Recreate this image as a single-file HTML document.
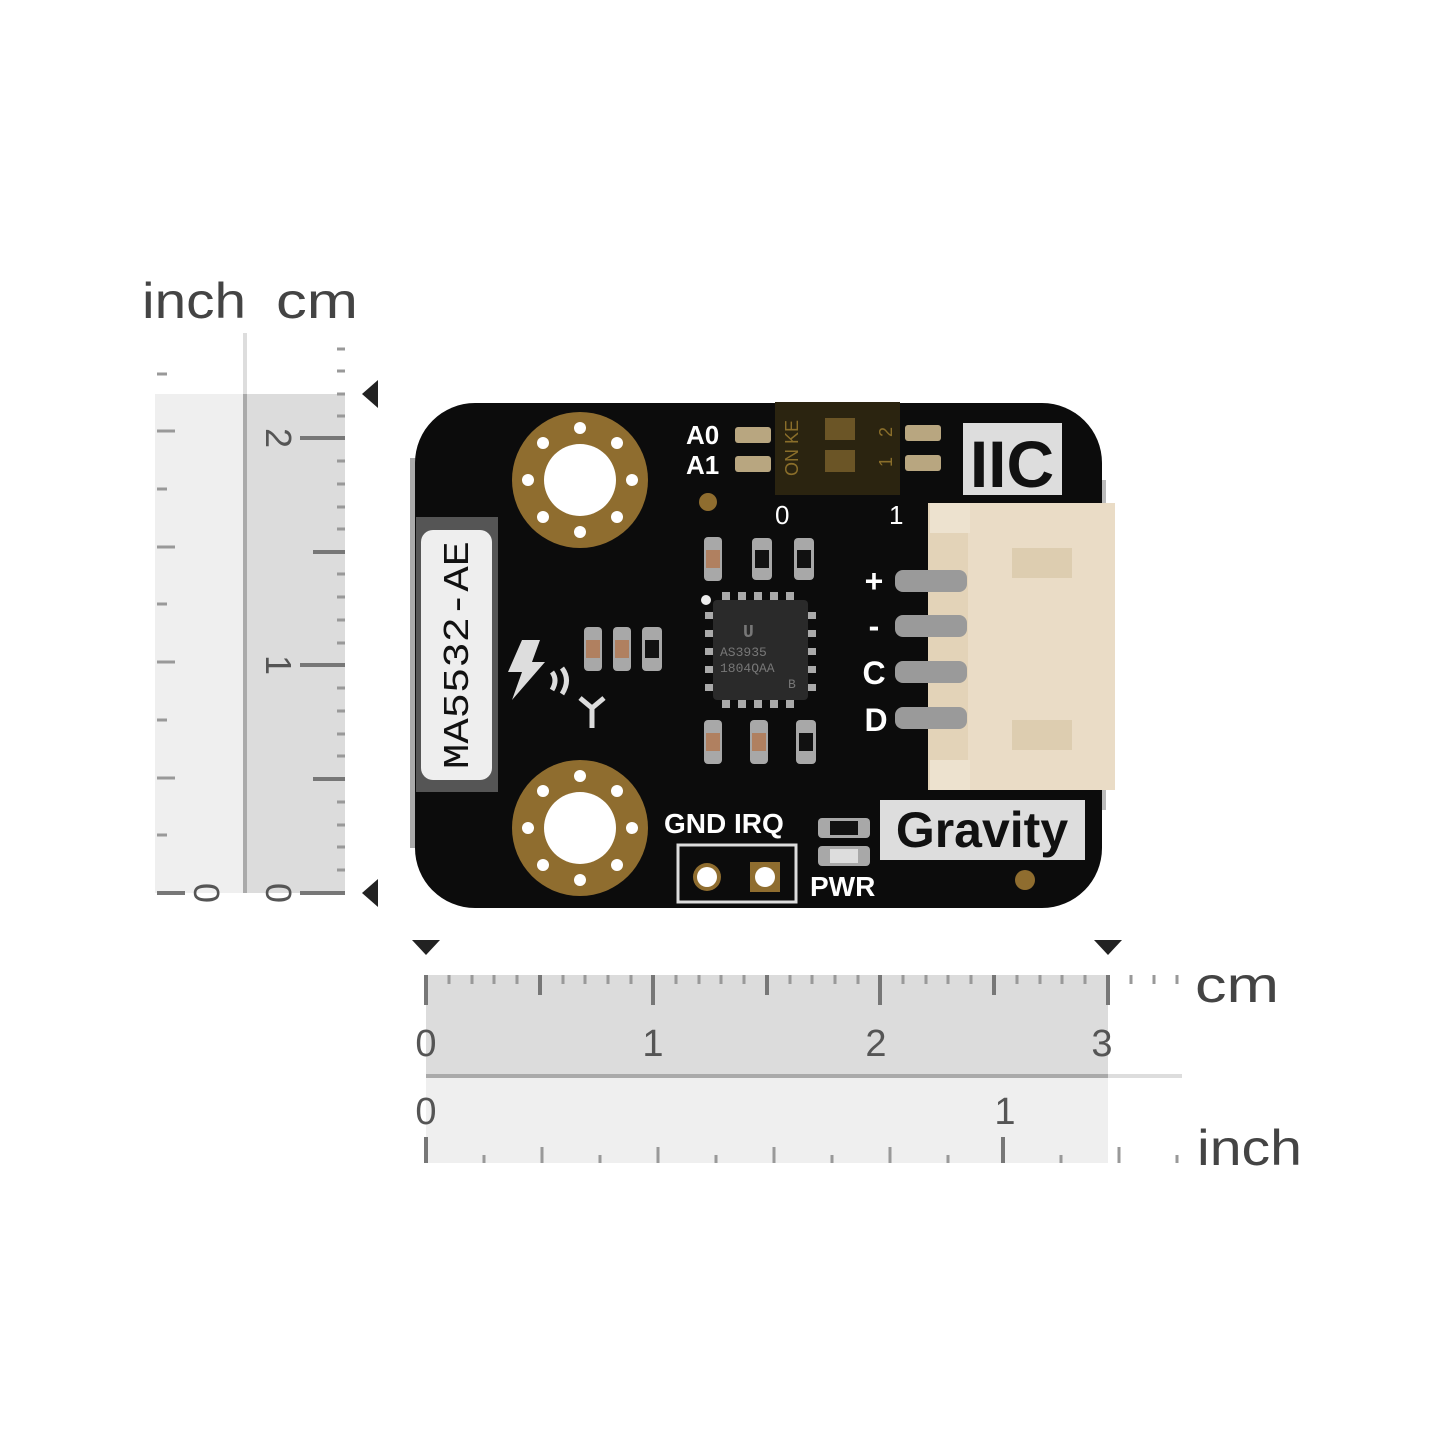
<!DOCTYPE html>
<html><head><meta charset="utf-8"><style>
html,body{margin:0;padding:0;background:#fff;}
svg{display:block;}
text{font-family:"Liberation Sans",sans-serif;}
text.mono{font-family:"Liberation Mono",monospace;}
</style></head><body>
<svg width="1445" height="1445" viewBox="0 0 1445 1445" xmlns="http://www.w3.org/2000/svg">
<rect width="1445" height="1445" fill="#fff"/>
<!-- LEFT RULER -->
<rect x="155" y="394" width="90" height="499" fill="#efefef"/>
<rect x="245" y="394" width="100" height="499" fill="#dcdcdc"/>
<line x1="245" y1="333" x2="245" y2="394" stroke="#ddd" stroke-width="4"/>
<line x1="245" y1="394" x2="245" y2="893" stroke="#aaa" stroke-width="4"/>
<g stroke="#999" stroke-width="3">
<line x1="157" y1="374" x2="167" y2="374"/>
<line x1="157" y1="431" x2="175" y2="431"/>
<line x1="157" y1="489" x2="167" y2="489"/>
<line x1="157" y1="547" x2="175" y2="547"/>
<line x1="157" y1="604" x2="167" y2="604"/>
<line x1="157" y1="662" x2="175" y2="662"/>
<line x1="157" y1="720" x2="167" y2="720"/>
<line x1="157" y1="778" x2="175" y2="778"/>
<line x1="157" y1="835" x2="167" y2="835"/>
<line x1="337" y1="349" x2="345" y2="349"/>
<line x1="337" y1="371" x2="345" y2="371"/>
<line x1="337" y1="394" x2="345" y2="394"/>
<line x1="337" y1="416" x2="345" y2="416"/>
<line x1="337" y1="461" x2="345" y2="461"/>
<line x1="337" y1="484" x2="345" y2="484"/>
<line x1="337" y1="507" x2="345" y2="507"/>
<line x1="337" y1="529" x2="345" y2="529"/>
<line x1="337" y1="574" x2="345" y2="574"/>
<line x1="337" y1="597" x2="345" y2="597"/>
<line x1="337" y1="620" x2="345" y2="620"/>
<line x1="337" y1="643" x2="345" y2="643"/>
<line x1="337" y1="688" x2="345" y2="688"/>
<line x1="337" y1="711" x2="345" y2="711"/>
<line x1="337" y1="734" x2="345" y2="734"/>
<line x1="337" y1="756" x2="345" y2="756"/>
<line x1="337" y1="802" x2="345" y2="802"/>
<line x1="337" y1="825" x2="345" y2="825"/>
<line x1="337" y1="847" x2="345" y2="847"/>
<line x1="337" y1="870" x2="345" y2="870"/>
</g>
<g stroke="#777" stroke-width="4">
<line x1="157" y1="893" x2="185" y2="893"/>
<line x1="313" y1="552" x2="345" y2="552"/>
<line x1="313" y1="779" x2="345" y2="779"/>
<line x1="300" y1="438" x2="345" y2="438"/>
<line x1="300" y1="665" x2="345" y2="665"/>
<line x1="300" y1="893" x2="345" y2="893"/>
</g>
<g fill="#555" font-size="36">
<text transform="translate(266,438) rotate(90)" text-anchor="middle">2</text>
<text transform="translate(266,665) rotate(90)" text-anchor="middle">1</text>
<text transform="translate(266,893) rotate(90)" text-anchor="middle">0</text>
<text transform="translate(194,893) rotate(90)" text-anchor="middle">0</text>
</g>
<polygon points="362,394 378,380 378,408" fill="#222"/>
<polygon points="362,893 378,879 378,907" fill="#222"/>
<text x="142" y="318" font-size="50" fill="#444" textLength="104" lengthAdjust="spacingAndGlyphs">inch</text>
<text x="276" y="318" font-size="50" fill="#444" textLength="82" lengthAdjust="spacingAndGlyphs">cm</text>

<!-- BOTTOM RULER -->
<rect x="426" y="975" width="682" height="101" fill="#dcdcdc"/>
<rect x="426" y="1077" width="682" height="86" fill="#efefef"/>
<line x1="426" y1="1076" x2="1108" y2="1076" stroke="#aaa" stroke-width="4"/>
<line x1="1108" y1="1076" x2="1182" y2="1076" stroke="#ddd" stroke-width="4"/>
<g stroke="#999" stroke-width="3">
<line x1="449" y1="975" x2="449" y2="984"/><line x1="472" y1="975" x2="472" y2="984"/><line x1="494" y1="975" x2="494" y2="984"/><line x1="517" y1="975" x2="517" y2="984"/>
<line x1="563" y1="975" x2="563" y2="984"/><line x1="585" y1="975" x2="585" y2="984"/><line x1="608" y1="975" x2="608" y2="984"/><line x1="631" y1="975" x2="631" y2="984"/>
<line x1="676" y1="975" x2="676" y2="984"/><line x1="699" y1="975" x2="699" y2="984"/><line x1="721" y1="975" x2="721" y2="984"/><line x1="744" y1="975" x2="744" y2="984"/>
<line x1="790" y1="975" x2="790" y2="984"/><line x1="812" y1="975" x2="812" y2="984"/><line x1="835" y1="975" x2="835" y2="984"/><line x1="858" y1="975" x2="858" y2="984"/>
<line x1="903" y1="975" x2="903" y2="984"/><line x1="926" y1="975" x2="926" y2="984"/><line x1="948" y1="975" x2="948" y2="984"/><line x1="971" y1="975" x2="971" y2="984"/>
<line x1="1017" y1="975" x2="1017" y2="984"/><line x1="1040" y1="975" x2="1040" y2="984"/><line x1="1062" y1="975" x2="1062" y2="984"/><line x1="1085" y1="975" x2="1085" y2="984"/>
<line x1="1131" y1="975" x2="1131" y2="984"/><line x1="1154" y1="975" x2="1154" y2="984"/><line x1="1177" y1="975" x2="1177" y2="984"/>
<line x1="484" y1="1155" x2="484" y2="1163"/><line x1="600" y1="1155" x2="600" y2="1163"/><line x1="716" y1="1155" x2="716" y2="1163"/><line x1="832" y1="1155" x2="832" y2="1163"/><line x1="948" y1="1155" x2="948" y2="1163"/><line x1="1061" y1="1155" x2="1061" y2="1163"/><line x1="1177" y1="1155" x2="1177" y2="1163"/>
<line x1="542" y1="1147" x2="542" y2="1163"/><line x1="658" y1="1147" x2="658" y2="1163"/><line x1="774" y1="1147" x2="774" y2="1163"/><line x1="890" y1="1147" x2="890" y2="1163"/><line x1="1119" y1="1147" x2="1119" y2="1163"/>
</g>
<g stroke="#777" stroke-width="4">
<line x1="540" y1="975" x2="540" y2="995"/><line x1="767" y1="975" x2="767" y2="995"/><line x1="994" y1="975" x2="994" y2="995"/>
<line x1="426" y1="975" x2="426" y2="1005"/><line x1="653" y1="975" x2="653" y2="1005"/><line x1="880" y1="975" x2="880" y2="1005"/><line x1="1108" y1="975" x2="1108" y2="1005"/>
<line x1="426" y1="1137" x2="426" y2="1163"/><line x1="1003" y1="1137" x2="1003" y2="1163"/>
</g>
<g fill="#555" font-size="38" text-anchor="middle">
<text x="426" y="1056">0</text><text x="653" y="1056">1</text><text x="876" y="1056">2</text><text x="1102" y="1056">3</text>
<text x="426" y="1124">0</text><text x="1005" y="1124">1</text>
</g>
<polygon points="426,955 412,940 440,940" fill="#222"/>
<polygon points="1108,955 1094,940 1122,940" fill="#222"/>
<text x="1195" y="1002" font-size="50" fill="#444" textLength="84" lengthAdjust="spacingAndGlyphs">cm</text>
<text x="1197" y="1165" font-size="50" fill="#444" textLength="105" lengthAdjust="spacingAndGlyphs">inch</text>

<!-- PCB -->
<rect x="410" y="458" width="12" height="390" fill="#aaa"/>
<rect x="1094" y="480" width="12" height="330" fill="#bbb"/>
<rect x="415" y="403" width="687" height="505" rx="60" fill="#0c0c0c"/>
<g>
<circle cx="580" cy="480" r="68" fill="#8f6d2f"/>
<circle cx="580" cy="480" r="36" fill="#fff"/>
<circle cx="580" cy="828" r="68" fill="#8f6d2f"/>
<circle cx="580" cy="828" r="36" fill="#fff"/>
<g fill="#fff">
<circle cx="580" cy="428" r="6"/><circle cx="580" cy="532" r="6"/><circle cx="528" cy="480" r="6"/><circle cx="632" cy="480" r="6"/>
<circle cx="543" cy="443" r="6"/><circle cx="617" cy="443" r="6"/><circle cx="543" cy="517" r="6"/><circle cx="617" cy="517" r="6"/>
<circle cx="580" cy="776" r="6"/><circle cx="580" cy="880" r="6"/><circle cx="528" cy="828" r="6"/><circle cx="632" cy="828" r="6"/>
<circle cx="543" cy="791" r="6"/><circle cx="617" cy="791" r="6"/><circle cx="543" cy="865" r="6"/><circle cx="617" cy="865" r="6"/>
</g>
</g>
<!-- antenna -->
<rect x="416" y="517" width="82" height="275" fill="#555"/>
<rect x="421" y="530" width="71" height="250" rx="12" fill="#eee"/>
<text class="mono" transform="translate(468,655) rotate(-90)" text-anchor="middle" font-size="36" fill="#111" textLength="228" lengthAdjust="spacingAndGlyphs">MA5532-AE</text>
<!-- dip switch -->
<rect x="775" y="402" width="125" height="93" fill="#2b2410"/>
<rect x="825" y="418" width="30" height="22" fill="#6b5526"/>
<rect x="825" y="450" width="30" height="22" fill="#6b5526"/>
<text transform="translate(798,448) rotate(-90)" text-anchor="middle" font-size="18" fill="#8a6e2a">ON KE</text>
<text transform="translate(892,432) rotate(-90)" text-anchor="middle" font-size="18" fill="#8a6e2a">2</text>
<text transform="translate(892,462) rotate(-90)" text-anchor="middle" font-size="18" fill="#8a6e2a">1</text>
<g fill="#b8a680"><rect x="735" y="427" width="36" height="16" rx="3"/><rect x="735" y="456" width="36" height="16" rx="3"/><rect x="905" y="425" width="36" height="16" rx="3"/><rect x="905" y="455" width="36" height="16" rx="3"/></g>
<g fill="#fff" font-weight="bold" font-size="26">
<text x="686" y="444">A0</text><text x="686" y="474">A1</text>
<text x="775" y="524" font-weight="normal">0</text><text x="889" y="524" font-weight="normal">1</text>
</g>
<circle cx="708" cy="502" r="9" fill="#8f6d2f"/>
<!-- IIC -->
<rect x="963" y="423" width="99" height="72" fill="#ddd"/>
<text x="1012" y="487" text-anchor="middle" font-size="66" font-weight="bold" fill="#111">IIC</text>
<!-- connector -->
<rect x="928" y="503" width="187" height="287" fill="#e3d3b8"/>
<rect x="968" y="503" width="147" height="287" fill="#eadcc6"/>
<rect x="930" y="503" width="40" height="30" fill="#ede2cf"/>
<rect x="930" y="760" width="40" height="30" fill="#ede2cf"/>
<rect x="1012" y="548" width="60" height="30" fill="#ddcdb0"/>
<rect x="1012" y="720" width="60" height="30" fill="#ddcdb0"/>
<g fill="#9a9a9a">
<rect x="895" y="570" width="72" height="22" rx="8"/><rect x="895" y="615" width="72" height="22" rx="8"/>
<rect x="895" y="661" width="72" height="22" rx="8"/><rect x="895" y="707" width="72" height="22" rx="8"/>
</g>
<g fill="#fff" font-weight="bold" font-size="32" text-anchor="middle">
<text x="874" y="592">+</text><text x="874" y="637">-</text><text x="874" y="684">C</text><text x="876" y="731">D</text>
</g>
<!-- chip -->
<rect x="713" y="600" width="95" height="100" rx="4" fill="#2a2a2a"/>
<g fill="#aaa">
<rect x="722" y="592" width="8" height="8"/><rect x="738" y="592" width="8" height="8"/><rect x="754" y="592" width="8" height="8"/><rect x="770" y="592" width="8" height="8"/><rect x="786" y="592" width="8" height="8"/>
<rect x="722" y="700" width="8" height="8"/><rect x="738" y="700" width="8" height="8"/><rect x="754" y="700" width="8" height="8"/><rect x="770" y="700" width="8" height="8"/><rect x="786" y="700" width="8" height="8"/>
<rect x="705" y="612" width="8" height="7"/><rect x="705" y="630" width="8" height="7"/><rect x="705" y="648" width="8" height="7"/><rect x="705" y="666" width="8" height="7"/><rect x="705" y="684" width="8" height="7"/>
<rect x="808" y="612" width="8" height="7"/><rect x="808" y="630" width="8" height="7"/><rect x="808" y="648" width="8" height="7"/><rect x="808" y="666" width="8" height="7"/><rect x="808" y="684" width="8" height="7"/>
</g>
<g fill="#777" font-size="13">
<text class="mono" x="743" y="637" font-size="18" font-weight="bold">U</text>
<text class="mono" x="720" y="656">AS3935</text><text class="mono" x="720" y="672">1804QAA</text><text class="mono" x="788" y="688">B</text>
</g>
<circle cx="706" cy="600" r="5" fill="#eee"/>
<!-- small parts -->
<g fill="#a8a8a8">
<rect x="704" y="537" width="18" height="44" rx="4"/><rect x="752" y="538" width="20" height="42" rx="4"/><rect x="794" y="538" width="20" height="42" rx="4"/>
<rect x="584" y="627" width="18" height="44" rx="4"/><rect x="613" y="627" width="18" height="44" rx="4"/><rect x="642" y="627" width="20" height="44" rx="4"/>
<rect x="704" y="720" width="18" height="44" rx="4"/><rect x="750" y="720" width="18" height="44" rx="4"/><rect x="796" y="720" width="20" height="44" rx="4"/>
<rect x="818" y="818" width="52" height="20" rx="4"/><rect x="818" y="846" width="52" height="20" rx="4"/>
</g>
<g fill="#b08060">
<rect x="706" y="550" width="14" height="18"/><rect x="586" y="640" width="14" height="18"/><rect x="615" y="640" width="14" height="18"/>
<rect x="706" y="733" width="14" height="18"/><rect x="752" y="733" width="14" height="18"/>
</g>
<g fill="#111"><rect x="755" y="550" width="14" height="18"/><rect x="797" y="550" width="14" height="18"/><rect x="645" y="640" width="14" height="18"/><rect x="799" y="733" width="14" height="18"/><rect x="830" y="821" width="28" height="14"/></g>
<rect x="830" y="849" width="28" height="14" fill="#ddd"/>
<!-- lightning icon -->
<polygon points="522,640 540,640 532,662 545,662 512,700 522,672 508,672" fill="#ddd"/>
<path d="M552 672 q6 8 0 18 M562 668 q9 12 0 26" stroke="#ddd" stroke-width="5" fill="none"/>
<path d="M580 698 l12 10 l12 -10 M592 706 v22" stroke="#ddd" stroke-width="5" fill="none"/>
<!-- GND IRQ -->
<text x="664" y="833" font-size="28" font-weight="bold" fill="#fff">GND IRQ</text>
<rect x="678" y="845" width="118" height="57" fill="none" stroke="#ddd" stroke-width="3"/>
<circle cx="707" cy="877" r="14" fill="#8f6d2f"/><circle cx="707" cy="877" r="10" fill="#fff"/>
<rect x="750" y="862" width="30" height="30" fill="#8f6d2f"/><circle cx="765" cy="877" r="10" fill="#fff"/>
<text x="810" y="896" font-size="28" font-weight="bold" fill="#fff">PWR</text>
<!-- Gravity -->
<rect x="880" y="800" width="205" height="60" fill="#ddd"/>
<text x="982" y="847" text-anchor="middle" font-size="50" font-weight="bold" fill="#111">Gravity</text>
<circle cx="1025" cy="880" r="10" fill="#8f6d2f"/>
</svg>
</body></html>
